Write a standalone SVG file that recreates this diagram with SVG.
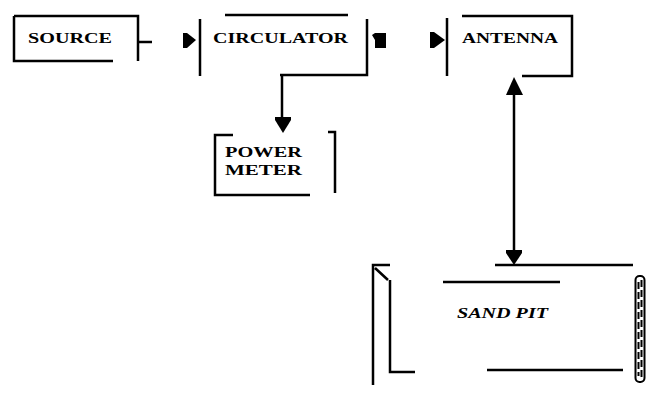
<svg xmlns="http://www.w3.org/2000/svg" width="647" height="394" viewBox="0 0 647 394">
<style>
.ln{fill:none;stroke:#000;stroke-width:2.5;stroke-linecap:butt}
.th{fill:none;stroke:#000;stroke-width:2}
.hd{fill:#000;stroke:none}
.t{font-family:"Liberation Serif","Times New Roman",serif;font-weight:bold;font-size:15px;fill:#000}
</style>
<rect width="647" height="394" fill="#fff"/>
<g id="source">
<path class="ln" d="M14 16H138V61M14 16V61H113"/>
<text class="t" x="28" y="43" textLength="84" lengthAdjust="spacingAndGlyphs">SOURCE</text>
</g>
<g id="circulator">
<path class="ln" d="M200 19V76M225 15H348M367 19V75H280"/>
<text class="t" x="213" y="43" textLength="135" lengthAdjust="spacingAndGlyphs">CIRCULATOR</text>
</g>
<g id="antenna">
<path class="ln" d="M447 18V76M462 16H572V76H522"/>
<text class="t" x="462" y="43" textLength="96" lengthAdjust="spacingAndGlyphs">ANTENNA</text>
</g>
<g id="power-meter">
<path class="ln" d="M233 135H215V195H310M328 132H335V193"/>
<text class="t" x="225" y="157" font-size="14" textLength="77" lengthAdjust="spacingAndGlyphs">POWER</text>
<text class="t" x="225" y="175" font-size="14" textLength="77" lengthAdjust="spacingAndGlyphs">METER</text>
</g>
<g id="sand-pit">
<path class="ln" d="M495 265H633M390 265H373V385M375 268L388 280M390 280V372H415M443 282H560M487 370H623"/>
<rect x="635.5" y="276" width="9" height="106" rx="4" class="th"/>
<path class="th" d="M638.5 282V376M641.5 280V378" stroke-dasharray="7 3"/>
<text class="t" x="457" y="318" font-style="italic" textLength="91" lengthAdjust="spacingAndGlyphs">SAND PIT</text>
</g>
<g id="connectors">
<path class="ln" d="M138 42H152"/>
<polygon class="hd" points="183,33 187,33 196,40 187,48 183,48"/>
<polygon class="hd" points="372,35 375,33 386,33 386,48 375,48 375,40"/>
<polygon class="hd" points="430,32 434,32 445,40 434,48 430,48"/>
<path class="ln" d="M282 75V118"/>
<polygon class="hd" points="275,117 291,117 291,120 283,133 275,120"/>
<path class="ln" d="M514 92V252"/>
<polygon class="hd" points="514,77 523,95 506,95"/>
<polygon class="hd" points="506,250 522,250 522,253 514,265 506,253"/>
</g>
</svg>
